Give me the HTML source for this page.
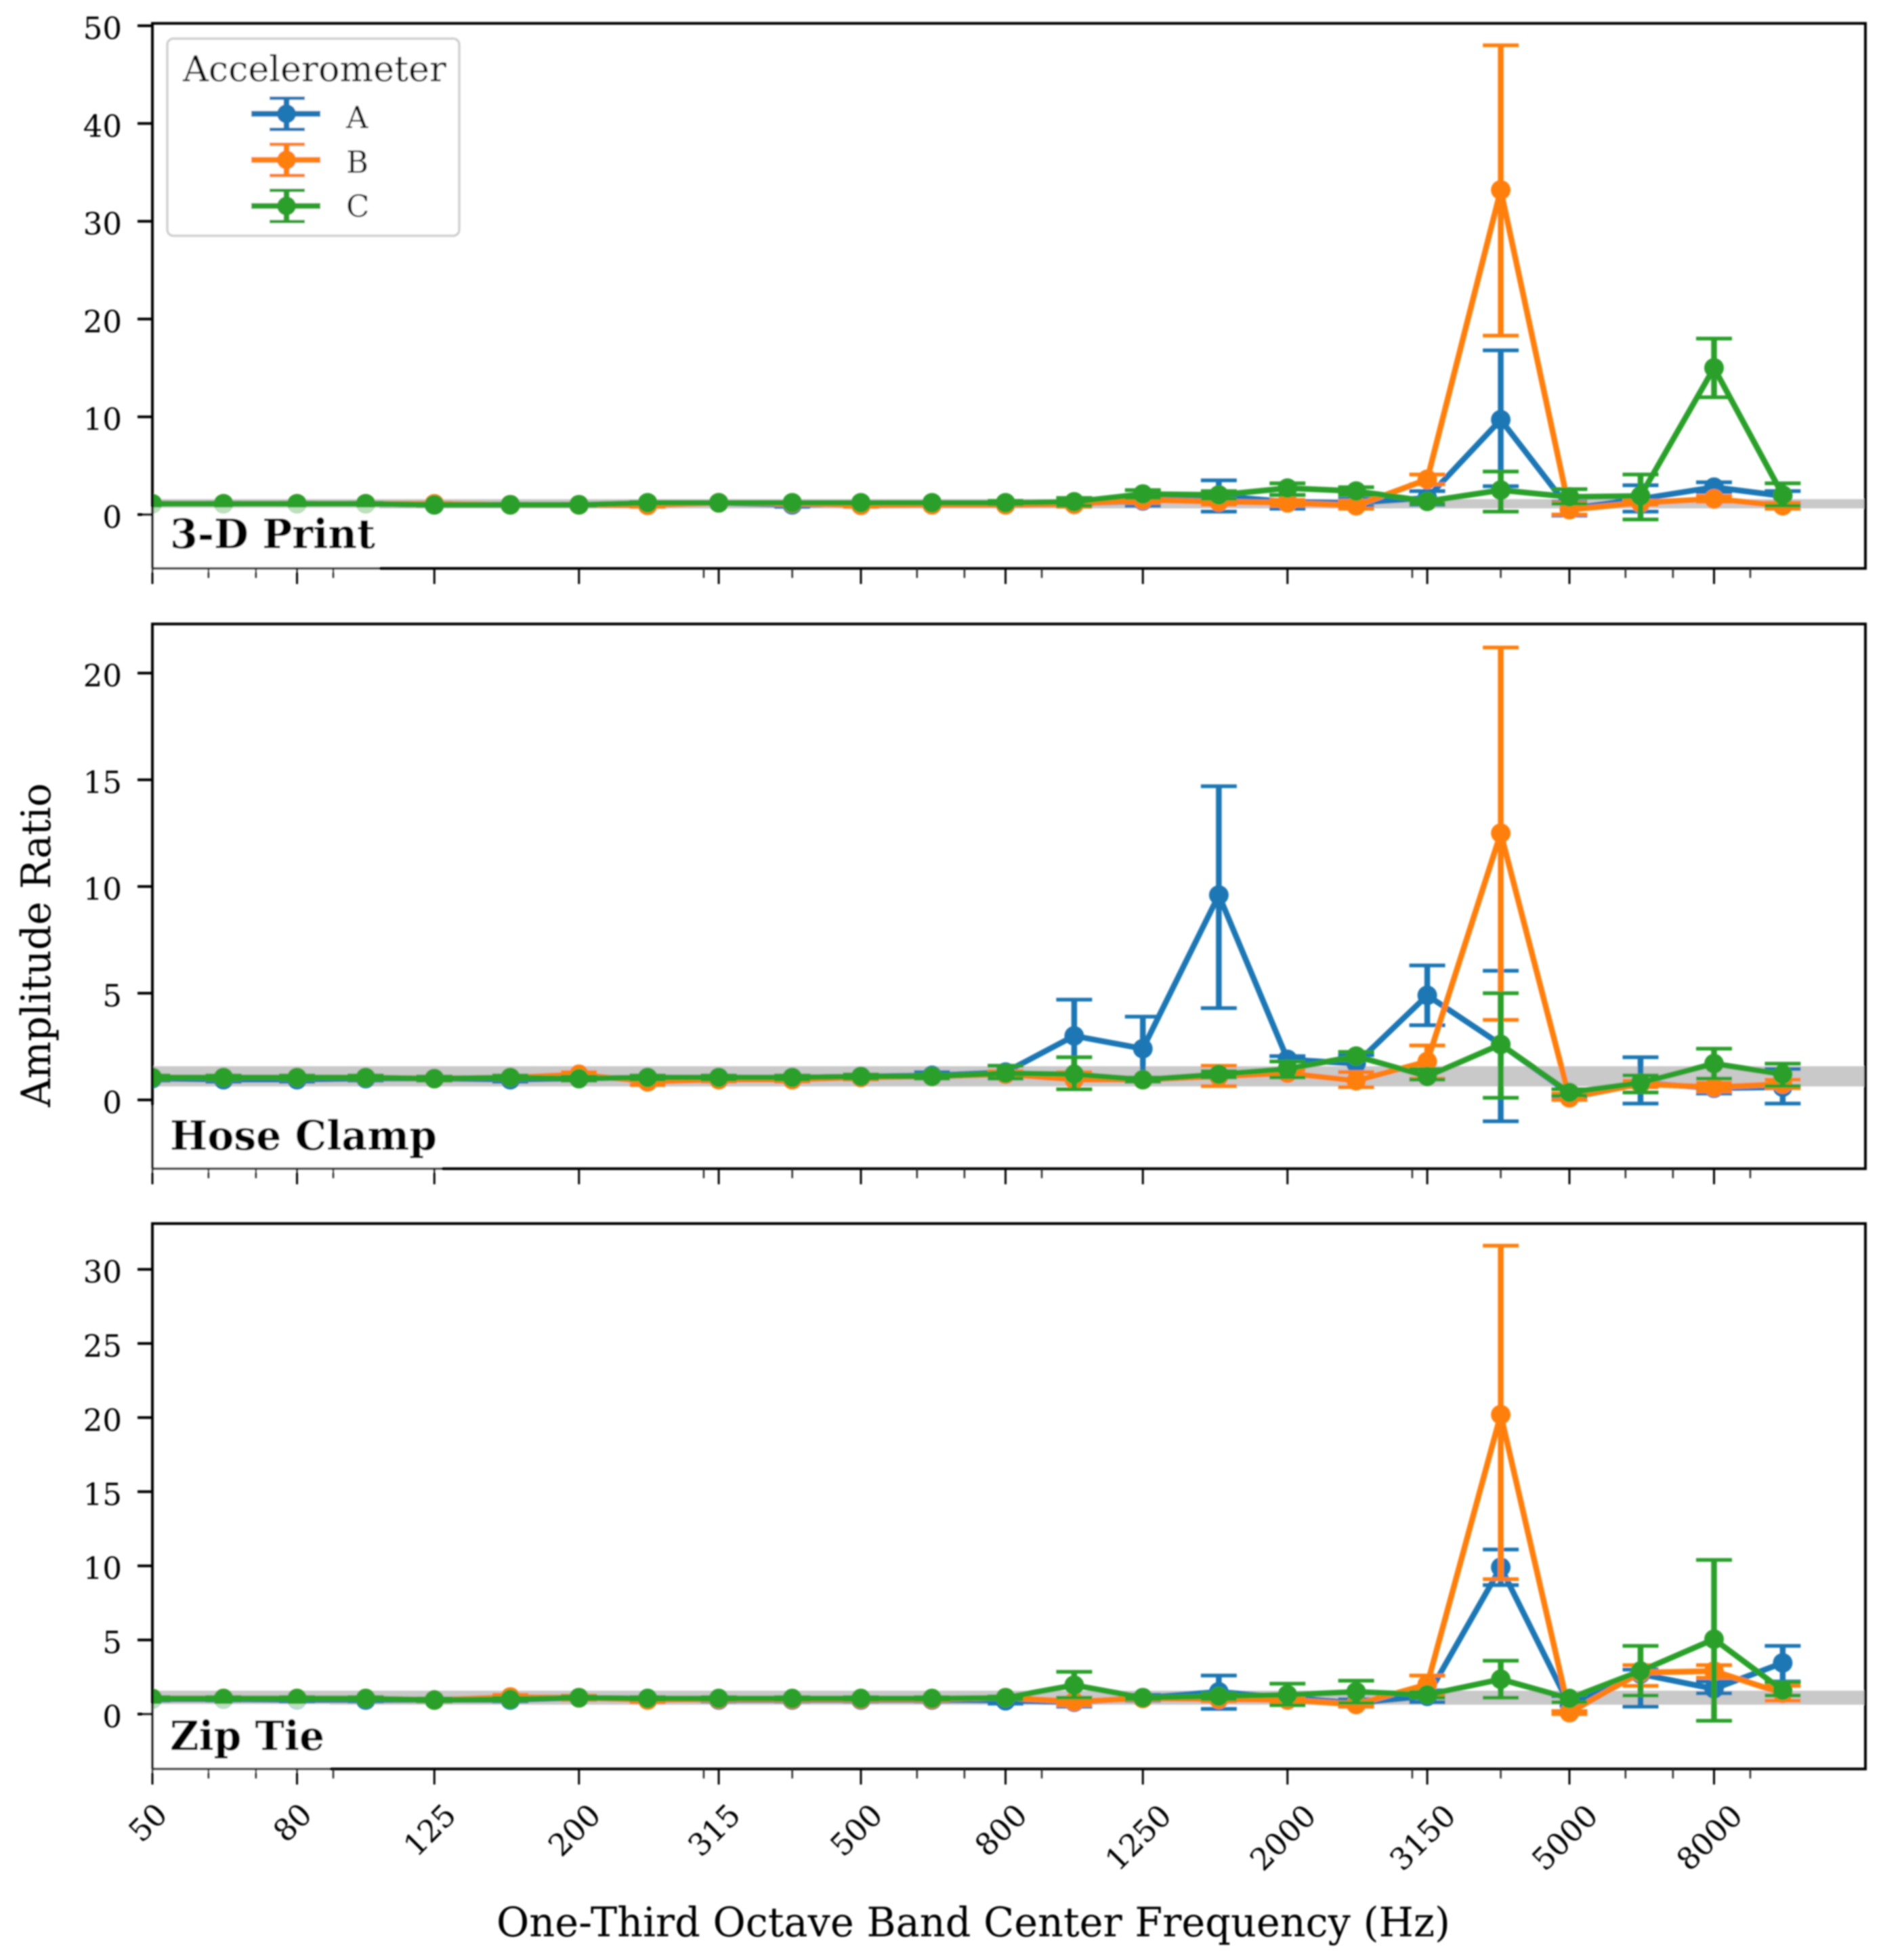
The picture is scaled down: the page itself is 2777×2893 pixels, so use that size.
<!DOCTYPE html>
<html lang="en">
<head>
<meta charset="utf-8">
<title>Amplitude Ratio by One-Third Octave Band</title>
<style>
html,body{margin:0;padding:0;background:#fff;}
svg{display:block;}
text{font-family:"DejaVu Serif","Liberation Serif",serif;fill:#000;}
</style>
</head>
<body>
<svg id="chart" xmlns="http://www.w3.org/2000/svg" width="2777" height="2893" viewBox="0 0 2777 2893">
  <defs>
    <filter id="soft" filterUnits="userSpaceOnUse" x="0" y="0" width="2777" height="2893">
      <feGaussianBlur stdDeviation="1.1"/>
    </filter>
    <clipPath id="clip-print"><rect x="225" y="34" width="2529" height="805"/></clipPath>
    <clipPath id="clip-clamp"><rect x="225" y="921" width="2529" height="804"/></clipPath>
    <clipPath id="clip-zip"><rect x="225" y="1806" width="2529" height="805"/></clipPath>
  </defs>
  <rect x="0" y="0" width="2777" height="2893" fill="#fff"/>
  <g id="root" filter="url(#soft)">
    <text transform="translate(74,1395) rotate(-90)" text-anchor="middle" font-size="60" textLength="478" lengthAdjust="spacingAndGlyphs">Amplitude Ratio</text>
    <text x="1437" y="2858" text-anchor="middle" font-size="60" textLength="1408" lengthAdjust="spacingAndGlyphs">One-Third Octave Band Center Frequency (Hz)</text>
  </g>
</svg>
<script>
// ---- Categories and tick labels ----
const bandFrequencies = [50,63,80,100,125,160,200,250,315,400,500,630,800,1000,1250,1600,2000,2500,3150,4000,5000,6300,8000,10000];
const majorTickFrequencies = [50,80,125,200,315,500,800,1250,2000,3150,5000,8000];
const minorTickFrequencies = [60,70,90,300,400,600,700,900,3000,4000,6000,7000,9000];
const printYTicks = [0,10,20,30,40,50];
const clampYTicks = [0,5,10,15,20];
const zipYTicks = [0,5,10,15,20,25,30];
const referenceBand = [0.63,1.58];

// ---- 3-D Print ----
const printAMean = [1.1,1.1,1.1,1.1,1.0,1.0,1.0,1.1,1.2,1.0,1.1,1.1,1.1,1.1,1.4,1.9,1.3,1.2,1.7,9.7,0.6,1.6,2.8,1.9];
const printALow  = [1.0,1.0,1.0,1.0,0.9,0.9,0.9,1.0,1.1,0.8,0.9,1.0,1.0,0.9,0.9,0.3,0.6,0.8,1.0,2.9,-0.1,0.3,2.3,1.2];
const printAHigh = [1.2,1.2,1.2,1.2,1.1,1.1,1.1,1.2,1.3,1.2,1.3,1.2,1.2,1.3,1.9,3.5,2.0,1.6,2.4,16.8,1.3,3.0,3.3,2.4];
const printBMean = [1.1,1.1,1.1,1.1,1.1,1.0,1.0,0.95,1.2,1.15,0.95,1.0,1.0,1.05,1.5,1.3,1.2,0.9,3.6,33.2,0.5,1.2,1.6,0.9];
const printBLow  = [1.0,1.0,1.0,1.0,1.0,0.9,0.9,0.8,1.1,1.0,0.8,0.9,0.9,0.8,1.2,1.0,0.9,0.6,3.1,18.3,0.0,1.0,1.3,0.6];
const printBHigh = [1.2,1.2,1.2,1.2,1.2,1.1,1.1,1.1,1.3,1.3,1.1,1.1,1.1,1.3,1.8,1.6,1.5,1.4,4.1,48.0,1.2,1.4,1.9,1.2];
const printCMean = [1.1,1.1,1.1,1.1,1.0,1.0,1.0,1.2,1.2,1.2,1.2,1.2,1.2,1.3,2.1,2.0,2.7,2.4,1.35,2.5,1.8,1.9,15.0,2.0];
const printCLow  = [1.0,1.0,1.0,1.0,0.9,0.9,0.9,1.1,1.1,1.1,1.1,1.1,1.05,0.9,1.7,1.6,2.0,2.0,1.1,0.3,1.1,-0.5,12.0,0.9];
const printCHigh = [1.2,1.2,1.2,1.2,1.1,1.1,1.1,1.3,1.3,1.3,1.3,1.3,1.4,1.7,2.5,2.4,3.2,2.8,1.6,4.4,2.6,4.1,18.0,3.2];

// ---- Hose Clamp ----
const clampAMean = [1.0,0.95,0.95,1.0,1.0,0.95,1.0,1.05,1.05,1.05,1.1,1.15,1.3,3.0,2.4,9.6,1.9,1.7,4.9,2.6,0.3,0.8,0.55,0.6];
const clampALow  = [0.9,0.85,0.85,0.9,0.9,0.85,0.9,0.95,0.95,0.95,1.0,1.0,1.0,1.25,0.85,4.3,1.1,1.3,3.5,-1.0,0.1,-0.17,0.3,-0.17];
const clampAHigh = [1.1,1.05,1.05,1.1,1.1,1.05,1.1,1.15,1.15,1.15,1.2,1.3,1.6,4.7,3.9,14.7,2.05,2.1,6.3,6.05,0.5,2.0,0.8,1.45];
const clampBMean = [1.05,1.05,1.05,1.05,1.0,1.05,1.2,0.85,0.95,0.95,1.05,1.1,1.2,0.95,0.95,1.1,1.25,0.9,1.8,12.5,0.1,0.75,0.6,0.75];
const clampBLow  = [0.95,0.95,0.95,0.95,0.9,0.95,1.05,0.7,0.85,0.85,0.95,1.0,1.05,0.5,0.85,0.65,1.1,0.6,1.0,3.75,0.0,0.6,0.4,0.55];
const clampBHigh = [1.15,1.15,1.15,1.15,1.1,1.15,1.3,1.0,1.05,1.05,1.15,1.2,1.35,1.3,1.05,1.6,1.4,1.3,2.55,21.2,0.3,0.9,0.8,0.95];
const clampCMean = [1.05,1.05,1.05,1.05,1.0,1.05,1.0,1.05,1.05,1.05,1.1,1.1,1.25,1.2,0.95,1.2,1.45,2.05,1.1,2.6,0.35,0.8,1.7,1.2];
const clampCLow  = [0.95,0.95,0.95,0.95,0.9,0.95,0.9,0.95,0.95,0.95,1.0,1.0,1.0,0.5,0.85,1.05,1.05,1.85,0.95,0.1,0.2,0.35,1.0,0.65];
const clampCHigh = [1.15,1.15,1.15,1.15,1.1,1.15,1.1,1.15,1.15,1.15,1.2,1.2,1.6,2.0,1.05,1.35,1.8,2.25,1.45,5.0,0.5,1.15,2.4,1.7];

// ---- Zip Tie ----
const zipAMean = [1.0,1.0,0.95,0.95,0.95,0.95,1.1,1.05,0.95,0.95,0.95,0.95,0.9,0.8,1.1,1.5,1.1,0.75,1.2,9.9,0.6,2.7,1.7,3.45];
const zipALow  = [0.9,0.9,0.85,0.85,0.85,0.85,1.0,0.95,0.85,0.85,0.85,0.85,0.7,0.5,0.9,0.35,0.9,0.5,0.8,8.7,0.2,0.5,1.4,2.2];
const zipAHigh = [1.1,1.1,1.05,1.05,1.05,1.05,1.2,1.15,1.05,1.05,1.05,1.05,1.1,1.1,1.3,2.6,1.3,1.0,1.6,11.1,1.2,3.0,2.2,4.6];
const zipBMean = [1.05,1.05,1.05,1.05,0.95,1.15,1.1,0.95,1.0,1.0,1.0,1.0,1.1,0.85,1.05,1.0,0.95,0.65,2.0,20.2,0.1,2.8,2.9,1.4];
const zipBLow  = [0.95,0.95,0.95,0.95,0.85,1.0,0.95,0.8,0.9,0.9,0.9,0.9,1.0,0.6,0.95,0.85,0.8,0.5,1.3,9.1,0.0,1.9,2.45,0.9];
const zipBHigh = [1.15,1.15,1.15,1.15,1.05,1.3,1.25,1.1,1.1,1.1,1.1,1.1,1.2,1.1,1.15,1.15,1.1,0.8,2.6,31.6,0.2,3.3,3.3,1.9];
const zipCMean = [1.05,1.05,1.05,1.05,0.95,1.0,1.1,1.05,1.05,1.05,1.05,1.05,1.1,1.95,1.1,1.2,1.3,1.5,1.3,2.35,1.05,2.9,5.05,1.6];
const zipCLow  = [0.95,0.95,0.95,0.95,0.85,0.9,1.0,0.95,0.95,0.95,0.95,0.95,1.0,1.1,1.0,1.0,0.6,0.75,1.1,1.1,0.8,1.25,-0.45,1.25];
const zipCHigh = [1.15,1.15,1.15,1.15,1.05,1.1,1.2,1.15,1.15,1.15,1.15,1.15,1.2,2.85,1.2,1.4,2.05,2.25,1.5,3.6,1.3,4.6,10.4,2.15];

const legendLabels = ['A','B','C'];
const seriesColors = ['#1f77b4','#ff7f0e','#2ca02c'];

const NS = 'http://www.w3.org/2000/svg';
const root = document.getElementById('root');

function make(tag, attrs, parent){
  const node = document.createElementNS(NS, tag);
  for (const k in attrs) node.setAttribute(k, attrs[k]);
  parent.appendChild(node);
  return node;
}

// Axis functions
const AXIS_LEFT = 225, AXIS_RIGHT = 2754, PX_PER_DECADE = 1046;
function xScale(f){ return AXIS_LEFT + PX_PER_DECADE * Math.log10(f / 50); }
function yScaleFor(zeroY, pxPerUnit){ return function(v){ return zeroY - v * pxPerUnit; }; }

function drawPanel(p){
  const y = yScaleFor(p.zeroY, p.pxPerUnit);
  const g = make('g', {}, root);
  
  

  // Reference band
  const band = make('rect', {x:AXIS_LEFT, y:y(referenceBand[1]), width:AXIS_RIGHT-AXIS_LEFT, height:y(referenceBand[0])-y(referenceBand[1]), fill:'#c9c9c9'}, g);
  
  

  // Series
  const plot = make('g', {'clip-path':'url(#' + p.clip + ')'}, g);
  
  
  p.series.forEach(function(s, si){
    const color = seriesColors[si];
    const sg = make('g', {}, plot);
    
    
    const pts = bandFrequencies.map(function(f, i){ return xScale(f).toFixed(1) + ',' + y(s.mean[i]).toFixed(1); }).join(' ');
    const line = make('polyline', {points:pts, fill:'none', stroke:color, 'stroke-width':8.5, 'stroke-linejoin':'round'}, sg);
    
    
    bandFrequencies.forEach(function(f, i){
      const x = xScale(f);
      const bar = make('line', {x1:x, x2:x, y1:y(s.low[i]), y2:y(s.high[i]), stroke:color, 'stroke-width':8.5}, sg);
      
      
      [s.low[i], s.high[i]].forEach(function(v){
        const cap = make('line', {x1:x-26.5, x2:x+26.5, y1:y(v), y2:y(v), stroke:color, 'stroke-width':5.5}, sg);
        
        
      });
      const dot = make('circle', {cx:x, cy:y(s.mean[i]), r:14.5, fill:color}, sg);
      
      
    });
  });

  // Panel label with translucent backing
  const lb = make('rect', {x:211, y:p.boxTop, width:p.boxRight-211, height:p.bottom+5-p.boxTop, fill:'#fff', 'fill-opacity':0.68}, g);
  
  
  const label = make('text', {x:251, y:p.labelY, 'font-size':p.labelSize, 'font-weight':'bold', textLength:p.labelWidth, lengthAdjust:'spacingAndGlyphs'}, g);
  label.textContent = p.label;
  
  

  // Axes frame
  const frame = make('path', {d:'M'+AXIS_LEFT+' '+p.bottom+'V'+p.top+'H'+AXIS_RIGHT+'V'+p.bottom, fill:'none', stroke:'#000', 'stroke-width':4}, g);
  
  
  const bottomSpine = make('line', {x1:p.boxRight, x2:AXIS_RIGHT+2, y1:p.bottom, y2:p.bottom, stroke:'#000', 'stroke-width':4}, g);
  
  
  const bottomFaded = make('line', {x1:AXIS_LEFT, x2:p.boxRight, y1:p.bottom, y2:p.bottom, stroke:'#3c3c3c', 'stroke-width':3.6}, g);
  
  

  // Y ticks
  p.yTicks.forEach(function(v){
    const ty = y(v);
    const t = make('line', {x1:203, x2:AXIS_LEFT, y1:ty, y2:ty, stroke:'#000', 'stroke-width':4}, g);
    
    
    const tl = make('text', {x:180, y:ty+19.5, 'text-anchor':'end', 'font-size':45}, g);
    tl.textContent = String(v);
    
    
  });

  // X ticks
  majorTickFrequencies.forEach(function(f){
    const x = xScale(f);
    const t = make('line', {x1:x, x2:x, y1:p.bottom, y2:p.bottom+23, stroke:'#000', 'stroke-width':3}, g);
    
    
    if (p.showXLabels){
      const s = String(f);
      const cx = x - 7, cy = 2663 + (10 + 22 * s.length) / 2;
      const tl = make('text', {'text-anchor':'middle', 'font-size':45, x:0, y:16, transform:'translate('+cx.toFixed(1)+','+cy.toFixed(1)+') rotate(-45)'}, g);
      tl.textContent = s;
      
      
    }
  });
  minorTickFrequencies.forEach(function(f){
    const x = xScale(f);
    const t = make('line', {x1:x, x2:x, y1:p.bottom, y2:p.bottom+14, stroke:'#222', 'stroke-width':2.4}, g);
    
    
  });
}

drawPanel({name:'print', label:'3-D Print', top:34.5, bottom:839, zeroY:759.5, pxPerUnit:14.43, clip:'clip-print', yTicks:printYTicks, boxTop:749, boxRight:560, labelY:809, labelSize:60, labelWidth:303, showXLabels:false,
  series:[{mean:printAMean,low:printALow,high:printAHigh},{mean:printBMean,low:printBLow,high:printBHigh},{mean:printCMean,low:printCLow,high:printCHigh}]});
drawPanel({name:'clamp', label:'Hose Clamp', top:921, bottom:1725, zeroY:1623.5, pxPerUnit:31.5, clip:'clip-clamp', yTicks:clampYTicks, boxTop:1632, boxRight:652, labelY:1697, labelSize:60, labelWidth:394, showXLabels:false,
  series:[{mean:clampAMean,low:clampALow,high:clampAHigh},{mean:clampBMean,low:clampBLow,high:clampBHigh},{mean:clampCMean,low:clampCLow,high:clampCHigh}]});
drawPanel({name:'zip', label:'Zip Tie', top:1806, bottom:2611, zeroY:2530, pxPerUnit:21.88, clip:'clip-zip', yTicks:zipYTicks, boxTop:2515, boxRight:487, labelY:2583, labelSize:60, labelWidth:228, showXLabels:true,
  series:[{mean:zipAMean,low:zipALow,high:zipAHigh},{mean:zipBMean,low:zipBLow,high:zipBHigh},{mean:zipCMean,low:zipCLow,high:zipCHigh}]});

// Legend
const legend = make('g', {}, root);


const legendBox = make('rect', {x:247, y:57, width:431, height:291, rx:9, fill:'#fff', stroke:'#d0d0d0', 'stroke-width':3.5}, legend);


const legendTitle = make('text', {x:270, y:120, 'font-size':52, textLength:389, lengthAdjust:'spacingAndGlyphs'}, legend);
legendTitle.textContent = 'Accelerometer';


const legendRowCenters = [168,236,304];
const legendLabelBaselines = [189,255,320];
legendLabels.forEach(function(name, i){
  const rowY = legendRowCenters[i];
  const color = seriesColors[i];
  const entry = make('g', {}, legend);
  
  
  make('line', {x1:371, x2:473, y1:rowY, y2:rowY, stroke:color, 'stroke-width':8.5}, entry);
  make('line', {x1:423, x2:423, y1:rowY-24, y2:rowY+24, stroke:color, 'stroke-width':8.5}, entry);
  make('line', {x1:398, x2:450, y1:rowY-23, y2:rowY-23, stroke:color, 'stroke-width':5}, entry);
  make('line', {x1:398, x2:450, y1:rowY+23, y2:rowY+23, stroke:color, 'stroke-width':5}, entry);
  make('circle', {cx:423, cy:rowY, r:14, fill:color}, entry);
  const t = make('text', {x:511, y:legendLabelBaselines[i], 'font-size':45}, entry);
  t.textContent = name;
  
  
});
</script>
</body>
</html>
